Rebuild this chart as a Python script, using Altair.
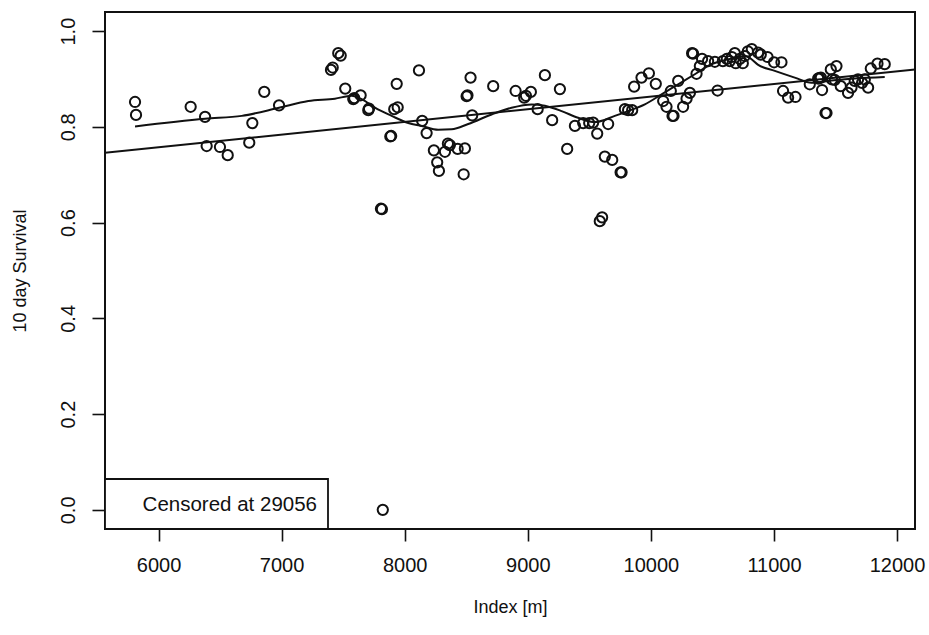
import altair as alt
import pandas as pd

# scatter data: index [m] and 10 day survival
index_m = [5809, 5817, 6261, 6378, 6859, 6762, 6391, 6499, 6562, 6737, 6979,
           7460, 7480, 7401, 7415, 7517, 7582, 7590, 7642, 7704, 7710, 7935, 8116, 7915, 7943,
           7883, 7890, 8142, 8178, 8237, 8264, 8278, 7807, 7815,
           8535, 8503, 8510, 8719, 8548, 8327, 8367, 8351, 8430, 8489, 8479,
           8901, 8971, 8985, 9025, 9080, 9139, 9261, 9198, 9320, 9383, 9450, 9499, 9531, 9564,
           9653, 9626, 9686, 9754, 9762, 9585, 9604,
           9789, 9815, 9848, 9864, 9924, 9984, 10040, 10100, 10127, 10176, 10184, 10162, 10222,
           10262, 10290, 10317, 10371, 10398, 10335, 10343, 10416, 10465, 10520, 10542,
           10585, 10617, 10641, 10658, 10682, 10690, 10723, 10747, 10763, 10788, 10820,
           10871, 10893, 10948, 11001, 11061,
           11074, 11115, 11175, 11291, 11359, 11367, 11381, 11391, 11462, 11508, 11472, 11494,
           11419, 11427, 11543, 11602, 11630, 11656, 11683, 11716, 11738, 11765, 11787, 11841, 11900,
           7822]
survival = [0.852, 0.825, 0.842, 0.821, 0.873, 0.808, 0.760, 0.758, 0.741, 0.767, 0.845,
            0.954, 0.949, 0.919, 0.924, 0.880, 0.858, 0.860, 0.866, 0.835, 0.838, 0.890, 0.918, 0.837, 0.841,
            0.780, 0.781, 0.8125, 0.787, 0.751, 0.726, 0.708, 0.629, 0.628,
            0.903, 0.864, 0.866, 0.885, 0.824, 0.748, 0.762, 0.765, 0.754, 0.755, 0.701,
            0.875, 0.861, 0.865, 0.873, 0.837, 0.908, 0.879, 0.814, 0.754, 0.802, 0.808, 0.808, 0.809, 0.786,
            0.806, 0.738, 0.731, 0.705, 0.705, 0.603, 0.611,
            0.837, 0.835, 0.835, 0.884, 0.903, 0.912, 0.890, 0.854, 0.842, 0.823, 0.823, 0.875, 0.896,
            0.842, 0.859, 0.871, 0.911, 0.927, 0.954, 0.953, 0.942, 0.9375, 0.936, 0.876,
            0.9375, 0.942, 0.9375, 0.946, 0.954, 0.933, 0.942, 0.933, 0.948, 0.958, 0.9625,
            0.955, 0.951, 0.946, 0.935, 0.935,
            0.875, 0.861, 0.8625, 0.889, 0.901, 0.902, 0.903, 0.877, 0.920, 0.927, 0.899, 0.898,
            0.829, 0.829, 0.885, 0.871, 0.882, 0.896, 0.899, 0.892, 0.899, 0.882, 0.922, 0.932, 0.931,
            0.0]

# smooth (loess-like) curve
smooth_x = [5809, 6378, 6676, 6979, 7217, 7433, 7569, 7650, 7758, 7894, 8029, 8137, 8272,
            8381, 8516, 8706, 8868, 9031, 9139, 9275, 9409, 9545, 9707, 9815, 9951, 10087,
            10222, 10357, 10493, 10628, 10763, 10803, 10869, 11007, 11169, 11305, 11467, 11657, 11900]
smooth_y = [0.801, 0.817, 0.823, 0.840, 0.854, 0.859, 0.865, 0.858, 0.840, 0.823, 0.808, 0.802, 0.794,
            0.795, 0.806, 0.826, 0.840, 0.847, 0.844, 0.833, 0.819, 0.810, 0.823, 0.833, 0.847, 0.868,
            0.889, 0.910, 0.931, 0.941, 0.948, 0.944, 0.930, 0.917, 0.903, 0.892, 0.897, 0.901, 0.904]

# linear fit line
fit_x = [5565, 12146]
fit_y = [0.746, 0.920]

x_ticks = [6000, 7000, 8000, 9000, 10000, 11000, 12000]
y_ticks = [0.0, 0.2, 0.4, 0.6, 0.8, 1.0]
legend_text = "Censored at 29056"

FONT = "Liberation Sans"
INK = "#111111"

pts = pd.DataFrame({"x": index_m, "y": survival})
smooth = pd.DataFrame({"x": smooth_x, "y": smooth_y})
fit = pd.DataFrame({"x": fit_x, "y": fit_y})

xscale = alt.Scale(domain=[5565, 12146], nice=False, zero=False)
yscale = alt.Scale(domain=[-0.04, 1.04], nice=False, zero=False)

xaxis = alt.Axis(values=x_ticks, format="d", title="Index [m]", grid=False, domain=False,
                 tickSize=12, tickColor=INK, tickWidth=1.6, labelPadding=14,
                 labelFont=FONT, labelFontSize=20, labelColor=INK,
                 titleFont=FONT, titleFontSize=18, titleFontWeight="normal", titleColor=INK,
                 titlePadding=23)
yaxis = alt.Axis(values=y_ticks, format=".1f", title="10 day Survival", grid=False, domain=False,
                 tickSize=13, tickColor=INK, tickWidth=1.6, labelPadding=14,
                 labelAngle=-90, labelAlign="center", labelBaseline="bottom",
                 labelFont=FONT, labelFontSize=20, labelColor=INK,
                 titleFont=FONT, titleFontSize=18, titleFontWeight="normal", titleColor=INK,
                 titlePadding=29)

points = alt.Chart(pts).mark_point(shape="circle", filled=False, size=105, strokeWidth=2,
                                   color=INK, opacity=1).encode(
    x=alt.X("x:Q", scale=xscale, axis=xaxis),
    y=alt.Y("y:Q", scale=yscale, axis=yaxis),
)

smooth_line = alt.Chart(smooth).mark_line(color=INK, strokeWidth=2, interpolate="monotone").encode(
    x=alt.X("x:Q", scale=xscale), y=alt.Y("y:Q", scale=yscale))

fit_line = alt.Chart(fit).mark_line(color=INK, strokeWidth=2, clip=True).encode(
    x=alt.X("x:Q", scale=xscale), y=alt.Y("y:Q", scale=yscale))

legend_box = alt.Chart(pd.DataFrame({"t": [legend_text]})).mark_rect(
    fill="white", stroke=INK, strokeWidth=1.8).encode(
    x=alt.value(0), x2=alt.value(223), y=alt.value(467), y2=alt.value(517))

legend_label = alt.Chart(pd.DataFrame({"t": [legend_text]})).mark_text(
    align="right", baseline="middle", font=FONT, fontSize=20.5, color=INK).encode(
    x=alt.value(212), y=alt.value(493), text="t:N")

chart = alt.layer(fit_line, smooth_line, points, legend_box, legend_label).properties(
    width=810, height=517,
    autosize=alt.AutoSizeParams(type="none"),
    padding={"left": 105, "top": 12, "right": 14, "bottom": 106},
    background="white",
).configure_view(stroke=INK, strokeWidth=2)

chart.save("out.html", embed_options={"renderer": "svg", "actions": False})
